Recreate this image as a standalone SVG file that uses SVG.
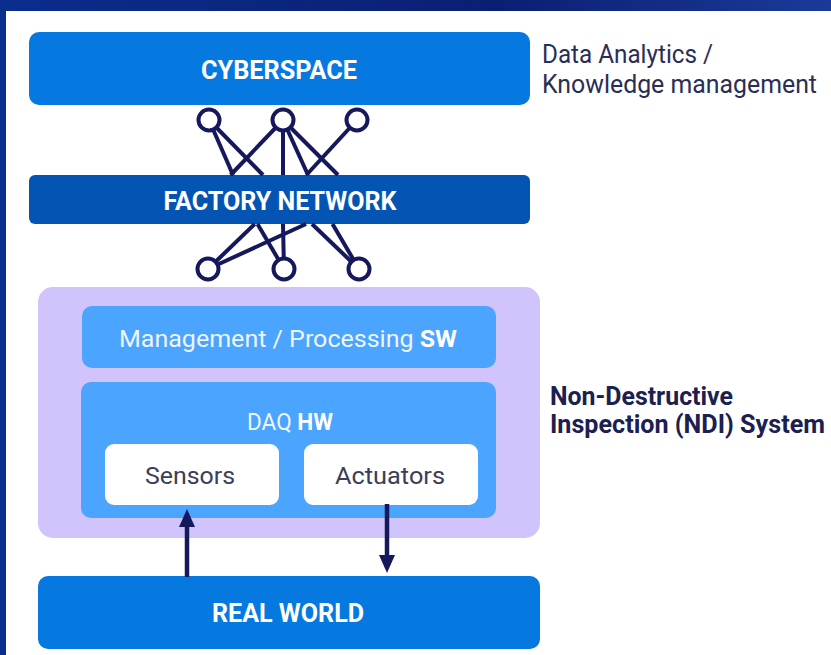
<svg xmlns="http://www.w3.org/2000/svg" width="831" height="655" viewBox="0 0 831 655">
<defs>
<linearGradient id="bg" x1="0" y1="0" x2="1" y2="0">
<stop offset="0" stop-color="#0a2d8e"/>
<stop offset="0.6" stop-color="#0b1f72"/>
<stop offset="1" stop-color="#1a3a9a"/>
</linearGradient>
<marker id="ah" viewBox="0 0 18 16" markerWidth="18" markerHeight="16" refX="1" refY="8" orient="auto" markerUnits="userSpaceOnUse">
<path d="M0,0 L18,8 L0,16 z" fill="#15185a"/>
</marker>
<style>
.cap{font-family:Roboto,"Liberation Sans",sans-serif;font-weight:700;font-size:25px;fill:#ffffff;text-anchor:middle}
.lbl{font-family:Roboto,"Liberation Sans",sans-serif;font-size:24px;text-anchor:middle}
.side{font-family:Roboto,"Liberation Sans",sans-serif;font-size:25px;fill:#2a2e56}
.sideb{font-family:Roboto,"Liberation Sans",sans-serif;font-size:25px;font-weight:700;fill:#1c2050}
.net{stroke:#15185a;stroke-width:4;fill:none;stroke-linecap:butt}
.node{stroke:#15185a;stroke-width:4;fill:#ffffff}
.arr{stroke:#15185a;stroke-width:4.5;fill:none}
</style>
</defs>
<rect x="0" y="0" width="831" height="655" fill="url(#bg)"/>
<rect x="6" y="11" width="825" height="644" fill="#ffffff"/>

<g id="cyberspace">
<rect x="29" y="32" width="501" height="73" rx="10" fill="#0679e0"/>
<text class="cap" x="279" y="79" textLength="156" lengthAdjust="spacingAndGlyphs">CYBERSPACE</text>
</g>

<g id="factory-network">
<rect x="29" y="175" width="501" height="49" rx="6" fill="#0454b4"/>
<text class="cap" x="280" y="210" textLength="233" lengthAdjust="spacingAndGlyphs">FACTORY NETWORK</text>
</g>

<g id="ndi-system">
<rect x="38" y="287" width="502" height="251" rx="15" fill="#d1c3fb"/>
</g>

<g id="management-sw">
<rect x="82" y="306" width="414" height="62" rx="10" fill="#4ba4fd"/>
<text class="lbl" x="288" y="347" fill="#eef5ff" textLength="338" lengthAdjust="spacingAndGlyphs">Management / Processing <tspan font-weight="700" fill="#ffffff">SW</tspan></text>
</g>

<g id="daq-hw">
<rect x="81" y="382" width="415" height="136" rx="10" fill="#4ba4fd"/>
<text class="lbl" x="290" y="430" fill="#eef5ff" textLength="86" lengthAdjust="spacingAndGlyphs">DAQ <tspan font-weight="700" fill="#ffffff">HW</tspan></text>
</g>

<g id="sensors">
<rect x="105" y="444" width="174" height="61" rx="9" fill="#ffffff"/>
<text class="lbl" x="190" y="484" fill="#3b3e58" textLength="90" lengthAdjust="spacingAndGlyphs">Sensors</text>
</g>

<g id="actuators">
<rect x="304" y="444" width="174" height="61" rx="9" fill="#ffffff"/>
<text class="lbl" x="390" y="484" fill="#3b3e58" textLength="110" lengthAdjust="spacingAndGlyphs">Actuators</text>
</g>

<g id="real-world">
<rect x="38" y="576" width="502" height="73" rx="10" fill="#0679e0"/>
<text class="cap" x="288" y="622" textLength="152" lengthAdjust="spacingAndGlyphs">REAL WORLD</text>
</g>

<g id="label-cyberspace">
<text class="side" x="542" y="63" textLength="171" lengthAdjust="spacingAndGlyphs">Data Analytics /</text>
<text class="side" x="542" y="93" textLength="275" lengthAdjust="spacingAndGlyphs">Knowledge management</text>
</g>

<g id="label-ndi">
<text class="sideb" x="550" y="405" textLength="183" lengthAdjust="spacingAndGlyphs">Non-Destructive</text>
<text class="sideb" x="550" y="433" textLength="275" lengthAdjust="spacingAndGlyphs">Inspection (NDI) System</text>
</g>

<g id="connectors">
<line class="net" x1="209" y1="120" x2="233" y2="175"/>
<line class="net" x1="209" y1="120" x2="263" y2="175"/>
<line class="net" x1="283" y1="120" x2="230.6" y2="175"/>
<line class="net" x1="283" y1="120" x2="283" y2="175"/>
<line class="net" x1="283" y1="120" x2="308" y2="175"/>
<line class="net" x1="283" y1="120" x2="338" y2="175"/>
<line class="net" x1="357" y1="120" x2="306.4" y2="175"/>
<line class="net" x1="208" y1="269" x2="254.8" y2="224"/>
<line class="net" x1="208" y1="269" x2="306" y2="224"/>
<line class="net" x1="284" y1="269" x2="257.5" y2="224"/>
<line class="net" x1="284" y1="269" x2="283" y2="224"/>
<line class="net" x1="359" y1="269" x2="312" y2="224"/>
<line class="net" x1="359" y1="269" x2="332.5" y2="224"/>
<line class="arr" x1="187" y1="577" x2="187" y2="526" marker-end="url(#ah)"/>
<line class="arr" x1="387" y1="504" x2="387" y2="556" marker-end="url(#ah)"/>
</g>

<g id="net-nodes">
<circle class="node" cx="209" cy="120" r="10.5"/>
<circle class="node" cx="283" cy="120" r="10.5"/>
<circle class="node" cx="357" cy="120" r="10.5"/>
<circle class="node" cx="208" cy="269" r="10.5"/>
<circle class="node" cx="284" cy="269" r="10.5"/>
<circle class="node" cx="359" cy="269" r="10.5"/>
</g>
</svg>
